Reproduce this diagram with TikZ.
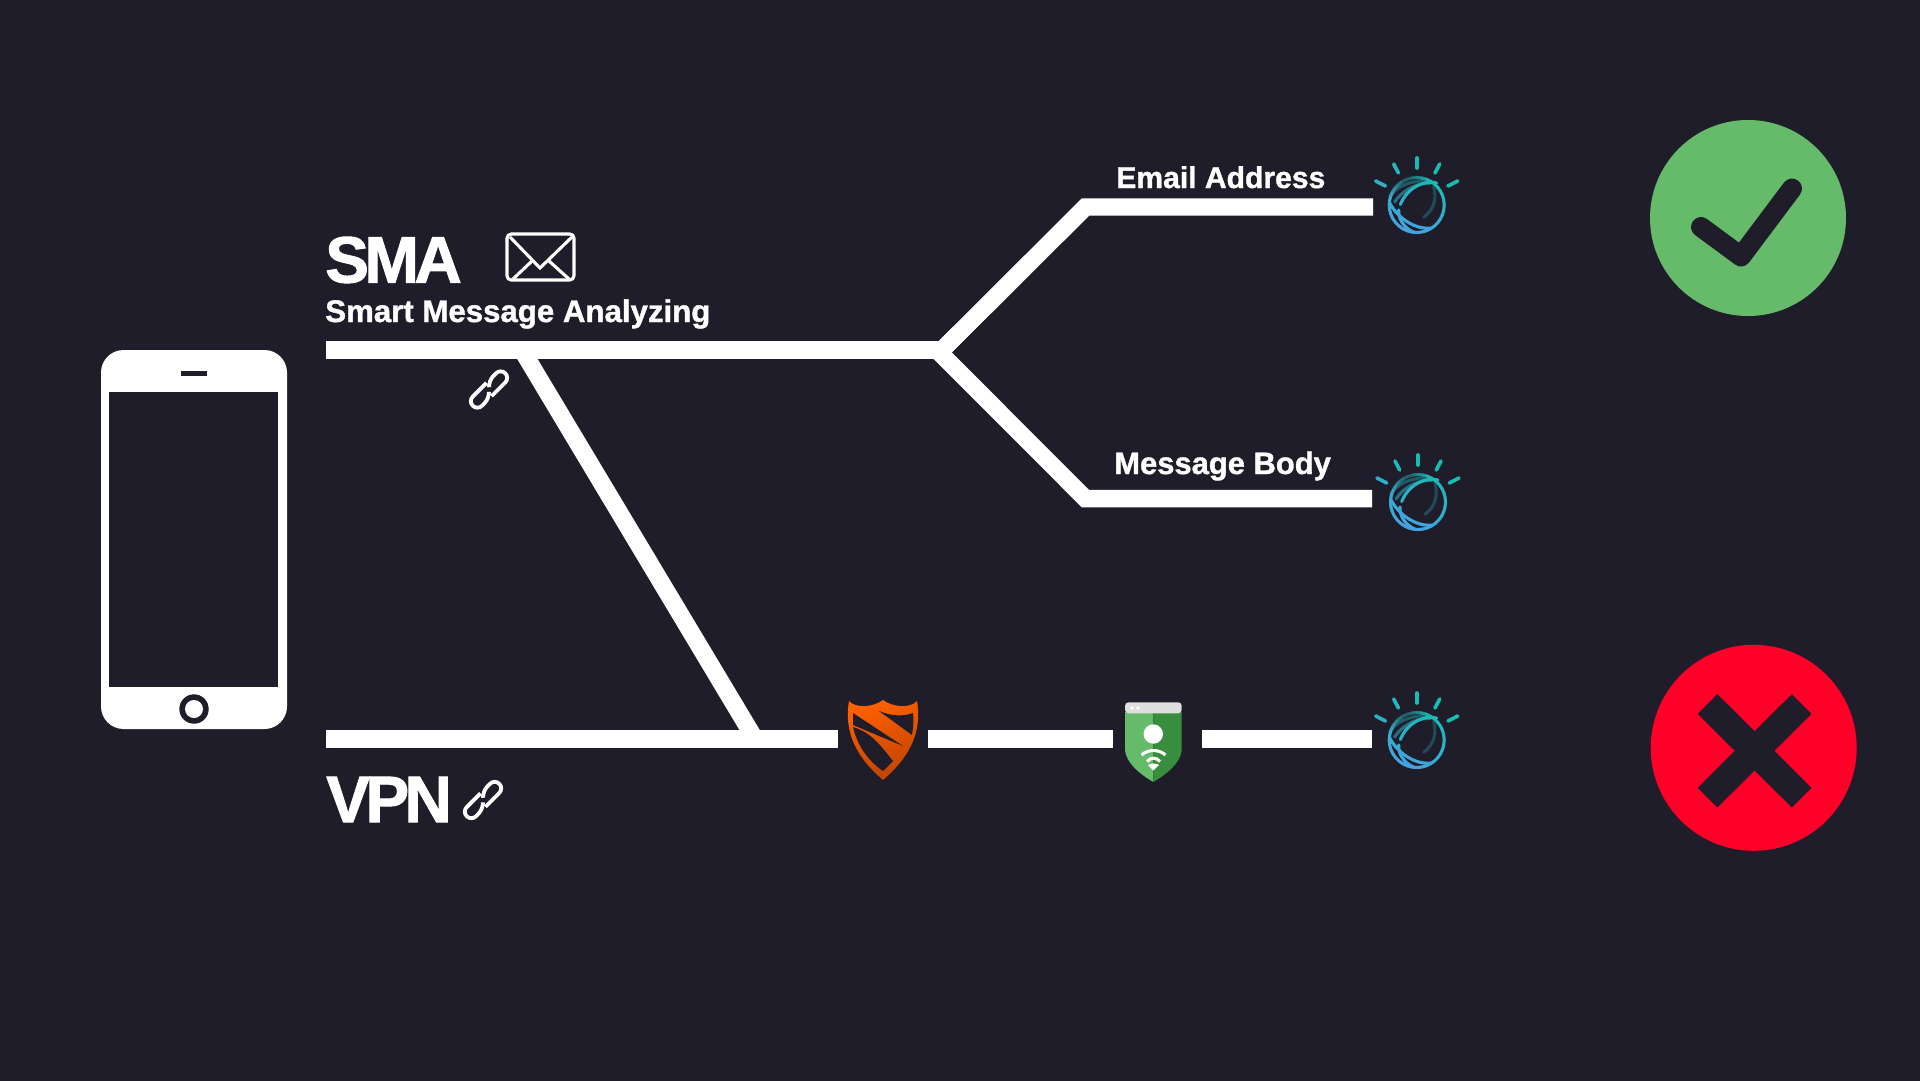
\documentclass[tikz,border=0pt]{standalone}
\usepackage{tikz}
\usepackage{xcolor}
\usepackage{fontspec}
\setmainfont{Liberation Sans}
\newfontfamily\headfont{Liberation Sans}[UprightFont=*/B,LetterSpace=-7,FakeBold=1.5]
\newfontfamily\labelfont{Liberation Sans}[UprightFont=*/B,FakeBold=1.2]
\definecolor{bgdark}{HTML}{1F1D2A}
\definecolor{okgreen}{HTML}{66BB6A}
\definecolor{darkgreen}{HTML}{388E3C}
\definecolor{badred}{HTML}{FF0029}
\definecolor{watsonteal}{HTML}{17BDB0}
\definecolor{watsonblue}{HTML}{4C9EE6}
\tikzset{
  wire/.style={white,line width=12.4pt,miter limit=20},
  bigtext/.style={white,anchor=base west,inner sep=0pt,font=\headfont\fontsize{46.6pt}{50pt}\selectfont},
  smalltext/.style={white,anchor=base west,inner sep=0pt,font=\labelfont\fontsize{22pt}{26pt}\selectfont},
  ray/.style={line width=2.6pt,line cap=round},
  strand/.style={line width=2.2pt,line cap=round},
  chain/.style={white,line width=2.7pt,rounded corners=4.6pt}
}
% one strand of the globe: bezier points, then strength
\newcommand{\gstrand}[9]{
\foreach \t in {0,0.1,...,0.9}{
  \pgfmathsetmacro\ta{\t}
  \pgfmathsetmacro\ua{1-\ta}
  \pgfmathsetmacro\tb{\t+0.1}
  \pgfmathsetmacro\ub{1-\tb}
  \pgfmathsetmacro\xa{\ua*\ua*\ua*#1+3*\ua*\ua*\ta*#3+3*\ua*\ta*\ta*#5+\ta*\ta*\ta*#7}
  \pgfmathsetmacro\ya{\ua*\ua*\ua*#2+3*\ua*\ua*\ta*#4+3*\ua*\ta*\ta*#6+\ta*\ta*\ta*#8}
  \pgfmathsetmacro\xb{\ub*\ub*\ub*#1+3*\ub*\ub*\tb*#3+3*\ub*\tb*\tb*#5+\tb*\tb*\tb*#7}
  \pgfmathsetmacro\yb{\ub*\ub*\ub*#2+3*\ub*\ub*\tb*#4+3*\ub*\tb*\tb*#6+\tb*\tb*\tb*#8}
  \pgfmathsetmacro\mixval{max(0,min(100,50-1.3*\ya+0.5*\xa))}
  \draw[strand,color=watsonteal!\mixval!watsonblue!#9!bgdark] (\xa,\ya) -- (\xb,\yb);
}
}
% watson icon, centre given in pixels
\newcommand{\watson}[2]{
\begin{scope}[shift={(#1,#2)}]
\draw[ray,watsonteal] (0,-47) -- (0,-37);
\draw[ray,watsonteal!80!watsonblue] (-23,-41) -- (-18.3,-32);
\draw[ray,watsonteal] (23,-41) -- (18.3,-32);
\draw[ray,watsonteal!55!watsonblue] (-41,-24) -- (-31.3,-19);
\draw[ray,watsonteal] (41,-24) -- (31.3,-19);
\gstrand{-27}{-8}{-20}{-20}{-5}{-24}{12}{-25}{40}
\gstrand{17}{-19}{20}{-6}{18}{6}{3}{15}{30}
\gstrand{-22}{-3}{-14}{-16}{4}{-24}{18}{-21}{55}
% ring
\foreach \a in {0,10,...,350}{
  \pgfmathsetmacro\xa{27.5*cos(\a)}
  \pgfmathsetmacro\ya{27.5*sin(\a)}
  \pgfmathsetmacro\xb{27.5*cos(\a+10)}
  \pgfmathsetmacro\yb{27.5*sin(\a+10)}
  \pgfmathsetmacro\mixval{max(0,min(100,50-1.3*\ya+0.5*\xa))}
  \pgfmathsetmacro\strength{100-62*max(0,1-abs(\a-245)/50)}
  \draw[strand,color=watsonteal!\mixval!watsonblue!\strength!bgdark] (\xa,\ya) -- (\xb,\yb);
}
\gstrand{-27}{-2}{-20}{12}{0}{28}{20}{22}{100}
\gstrand{20}{-22}{5}{-26}{-14}{-14}{-18}{5}{100}
\gstrand{-18}{5}{-19}{15}{-10}{26}{0}{28}{100}
\end{scope}
}
% chain icon, centre given in pixels
\newcommand{\chainlinks}[2]{
\begin{scope}[shift={(#1,#2)},rotate=45]
\draw[chain] (3,-6.5) -- (-23,-6.5) -- (-23,6.5) -- (-6,6.5) -- (-3,3);
\draw[chain] (-3,6.5) -- (23,6.5) -- (23,-6.5) -- (6,-6.5) -- (3,-3);
\end{scope}
}
\begin{document}
\begin{tikzpicture}[x=0.025cm,y=-0.025cm]
\useasboundingbox (0,0) rectangle (1920,1080);
\fill[bgdark] (-5,-5) rectangle (1925,1085);
% phone
\fill[white,rounded corners=16pt] (101,350) rectangle (287,729);
\fill[bgdark] (109,392) rectangle (278,687);
\fill[bgdark] (181,371) rectangle (207,376);
\fill[bgdark] (194,709) circle (14.7);
\fill[white] (194,709) circle (9);
% end points of the lines
\coordinate (smaStart) at (326,350);
\coordinate (smaJoin) at (942,350);
\coordinate (emailKnee) at (1085.5,207);
\coordinate (emailEnd) at (1373,207);
\coordinate (bodyFork) at (939,352);
\coordinate (bodyKnee) at (1085.5,498.7);
\coordinate (bodyEnd) at (1372,498.7);
\coordinate (tapTop) at (522,350);
\coordinate (tapBottom) at (755,739);
\coordinate (vpnStart) at (326,739);
\coordinate (vpnStop) at (838,739);
\coordinate (midStart) at (928,739);
\coordinate (midStop) at (1113,739);
\coordinate (lastStart) at (1202,739);
\coordinate (lastStop) at (1372,739);
\draw[wire] (smaStart) -- (smaJoin);
\draw[wire] (smaJoin) -- (emailKnee) -- (emailEnd);
\draw[wire] (bodyFork) -- (bodyKnee) -- (bodyEnd);
\draw[wire] (tapTop) -- (tapBottom);
\draw[wire] (vpnStart) -- (vpnStop);
\draw[wire] (midStart) -- (midStop);
\draw[wire] (lastStart) -- (lastStop);
% texts
\node[bigtext] (smaTitle) at (325,282.5) {SMA};
\node[smalltext,font=\labelfont\fontsize{22.2pt}{26pt}\selectfont] (smaName) at (325,322) {Smart Message Analyzing};
\node[bigtext] (vpnTitle) at (326,822) {VPN};
\node[smalltext,font=\labelfont\fontsize{21.4pt}{26pt}\selectfont] (emailText) at (1116,188) {Email Address};
\node[smalltext] (bodyText) at (1114,474) {Message Body};
% envelope
\draw[white,line width=2.2pt,rounded corners=3pt] (507,234) rectangle (574,280);
\draw[white,line width=2.2pt] (510,237) -- (540,268) -- (572,237);
\draw[white,line width=2.2pt] (513,279) -- (532,261);
\draw[white,line width=2.2pt] (569,279) -- (549,261);
\chainlinks{489}{389.5}
\chainlinks{483}{800}
% blokada shield
\shade[shading=axis,top color=orange!75!red,bottom color=orange!70!red!75!black,shading angle=20]
  (849,701) .. controls (855,708) and (872,708) .. (883,700) .. controls (894,708) and (911,708) .. (917,701)
  .. controls (921,725) and (916,752) .. (883,780) .. controls (850,752) and (845,725) .. (849,701) -- cycle;
\fill[bgdark] (879,711) .. controls (893,717) and (905,716) .. (913,713) .. controls (914,720) and (913,728) .. (912,735) -- cycle;
\fill[bgdark] (853,713) -- (903,746) -- (853,725) -- cycle;
\fill[bgdark] (853,727) .. controls (872,733) and (880,745) .. (893,761) -- (883,771) .. controls (870,762) and (858,748) .. (853,727) -- cycle;
% green shield
\fill[okgreen] (1153.3,712) -- (1125,712) -- (1125,750) .. controls (1126,762) and (1138,773) .. (1153.3,782) -- cycle;
\fill[darkgreen] (1153.3,712) -- (1181.7,712) -- (1181.7,750) .. controls (1180.7,762) and (1168.7,773) .. (1153.3,782) -- cycle;
\fill[gray!25,rounded corners=2.5pt] (1125,713.3) -- (1125,702.3) -- (1181.7,702.3) -- (1181.7,713.3) -- cycle;
\fill[white] (1132,708) circle (1.8) (1138,708) circle (1.8);
\fill[white] (1153.3,734) circle (9.7);
\draw[white,line width=2.2pt] (1141.5,755) .. controls (1148,749) and (1159,749) .. (1165.5,755);
\draw[white,line width=2.2pt] (1147,761.5) .. controls (1151,757) and (1156,757) .. (1160,761.5);
\fill[white] (1148,765) .. controls (1151,763) and (1156,763) .. (1159,765) -- (1153.3,770.5) -- cycle;
% watson icons
\watson{1416.7}{205}
\watson{1418}{502}
\watson{1416.7}{740}
% check and cross
\fill[okgreen] (1748,218) circle (98);
\draw[bgdark,line width=14.2pt,line cap=round,line join=round] (1701,227) -- (1741,256.5) -- (1792,188.5);
\fill[badred] (1753.7,747.8) circle (103);
\draw[bgdark,line width=19.8pt] (1707.5,704) -- (1801.7,797.7);
\draw[bgdark,line width=19.8pt] (1801.7,704) -- (1707.5,797.7);
\end{tikzpicture}
\end{document}
